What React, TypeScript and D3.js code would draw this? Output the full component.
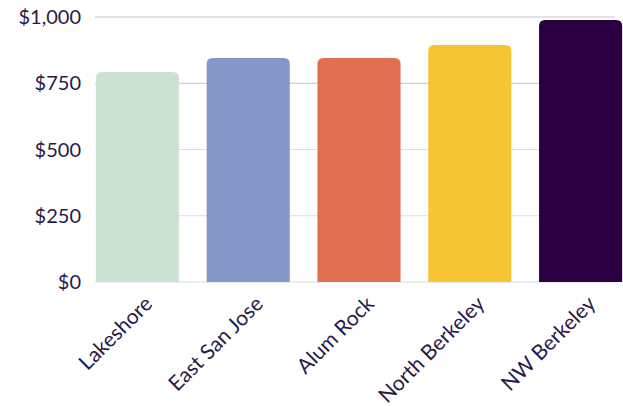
import React from "react";
import * as d3 from "d3";

const categories = ["Lakeshore", "East San Jose", "Alum Rock", "North Berkeley", "NW Berkeley"];
const values = [792, 845, 845, 894, 989];
const colors = ["#cce3d4", "#8497c8", "#e06f50", "#f7c433", "#2b0042"];
const yTicks = [0, 250, 500, 750, 1000];

const W = 623;
const H = 406;

export default function App() {
  const x = d3.scaleBand<string>().domain(categories).range([82, 636]).paddingInner(0.25).paddingOuter(0.125);
  const y = d3.scaleLinear().domain([0, 1000]).range([282, 17]);
  const fmt = (v: number) => "$" + d3.format(",")(v);
  const r = 6;
  const barPath = (x0: number, w: number, top: number, bottom: number) => {
    const rr = Math.min(r, (bottom - top) / 2);
    return `M${x0},${bottom}V${top + rr}Q${x0},${top} ${x0 + rr},${top}H${x0 + w - rr}Q${x0 + w},${top} ${x0 + w},${top + rr}V${bottom}Z`;
  };
  const textColor = "#2a1a4a";
  return (
    <svg width={W} height={H} style={{ position: "absolute", left: 0, top: 0, background: "#fff" }} fontFamily="Lato, 'Open Sans', sans-serif">
      {yTicks.map((t) => (
        <g key={t}>
          <line x1={95} x2={615} y1={y(t)} y2={y(t)} stroke={t === 750 || t === 1000 ? "#c4c4c4" : "#dddde2"} strokeWidth={1} />
          <text x={81} y={y(t)} dy="0.35em" textAnchor="end" fontSize={20} fill={textColor}>
            {fmt(t)}
          </text>
        </g>
      ))}
      {categories.map((c, i) => (
        <path key={c} d={barPath(x(c)!, x.bandwidth(), y(values[i]), y(0))} fill={colors[i]} />
      ))}
      {categories.map((c) => {
        const cx = x(c)! + x.bandwidth() / 2 + 11;
        const cy = 300;
        return (
          <text key={c} x={cx} y={cy} transform={`rotate(-45 ${cx} ${cy})`} textAnchor="end" dy="0.35em" fontSize={21} fill={textColor}>
            {c}
          </text>
        );
      })}
    </svg>
  );
}
